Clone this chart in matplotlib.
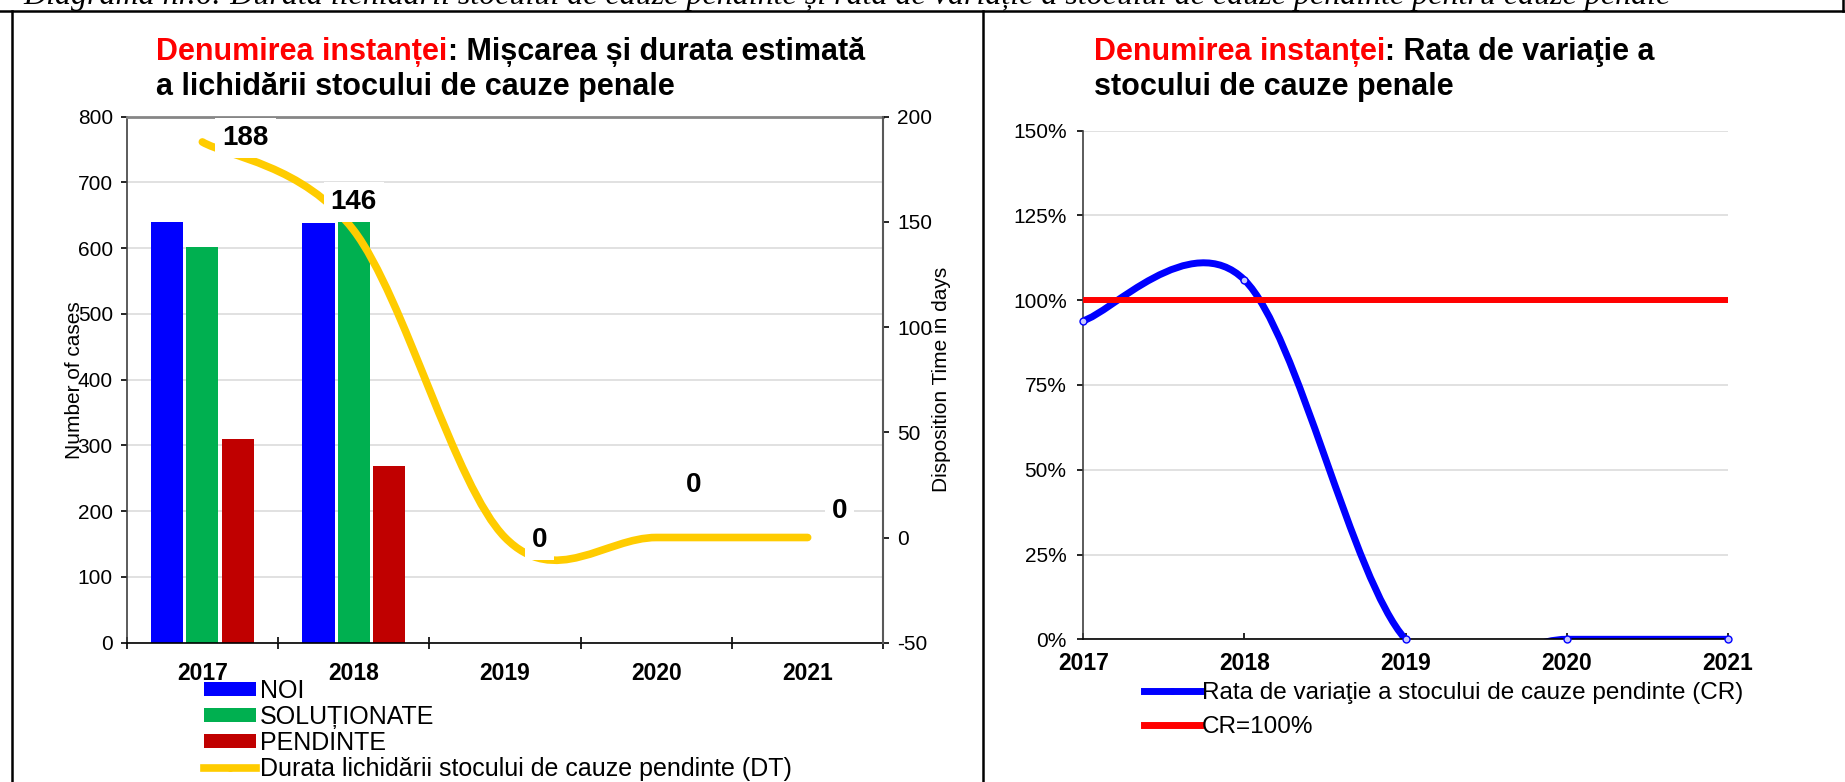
import matplotlib
matplotlib.use('Agg')
import matplotlib.pyplot as plt
import matplotlib.patches as mpatches
from matplotlib.lines import Line2D
from matplotlib.path import Path
import numpy as np

# data
years = ['2017', '2018', '2019', '2020', '2021']
noi = [640, 638]
solutionate = [602, 646]
pendinte = [310, 268]
dt_days = [188, 146, 0, 0, 0]
cr_pct = [94, 106, 0, 0, 0]
cr_target = [100, 100, 100, 100, 100]

caption = ('Diagrama nr.6: Durata lichidării stocului de cauze pendinte și rata de variație '
           'a stocului de cauze pendinte pentru cauze penale')

W, H = 1845, 782


def smooth_path(xs, ys):
    # excel-like smoothed line, cubic bezier through every point
    n = len(xs)
    verts = [(xs[0], ys[0])]
    codes = [Path.MOVETO]
    for i in range(n - 1):
        a = max(i - 1, 0)
        d = min(i + 2, n - 1)
        verts.append((xs[i] + (xs[i + 1] - xs[a]) / 6.0, ys[i] + (ys[i + 1] - ys[a]) / 6.0))
        verts.append((xs[i + 1] - (xs[d] - xs[i]) / 6.0, ys[i + 1] - (ys[d] - ys[i]) / 6.0))
        verts.append((xs[i + 1], ys[i + 1]))
        codes += [Path.CURVE4] * 3
    return Path(verts, codes)


plt.rcParams['font.family'] = ['Liberation Sans', 'DejaVu Sans']
plt.rcParams['axes.unicode_minus'] = False

fig = plt.figure(figsize=(W / 100, H / 100), dpi=100)

# ---------------- left chart ----------------
ax = fig.add_axes([126.7 / W, 1 - 642.7 / H, 756.6 / W, 526 / H])
x = np.arange(len(years))
bw = 0.213
off = 0.233
nb = len(noi)
b1 = ax.bar(x[:nb] - off, noi, bw, color='#0000FF', zorder=2)
b2 = ax.bar(x[:nb], solutionate, bw, color='#00B050', zorder=2)
b3 = ax.bar(x[:nb] + off, pendinte, bw, color='#C00000', zorder=2)

ax.set_xlim(-0.5, 4.5)
ax.set_ylim(0, 800)
ax.set_yticks(range(0, 801, 100))
ax.yaxis.grid(True, color='#D9D9D9', lw=1.1)
ax.set_axisbelow(True)
ax.set_xticks(np.arange(-0.5, 5, 1))
ax.set_xticklabels([])
ax.set_xticks(x, minor=True)
ax.set_xticklabels(years, minor=True, fontsize=16.5, fontweight='bold')
ax.tick_params(axis='x', which='major', direction='inout', length=9, width=1.2)
ax.tick_params(axis='x', which='minor', length=0, pad=14)
ax.tick_params(axis='y', direction='out', length=4, width=1.2, labelsize=15, pad=6)
ax.spines['top'].set_color('#868686')
ax.spines['top'].set_linewidth(2)
ax.spines['right'].set_visible(False)
ax.spines['left'].set_color('#404040')
ax.spines['left'].set_linewidth(1.2)
ax.spines['bottom'].set_linewidth(1.2)
ax.set_ylabel('Number of cases', fontsize=15)
ax.yaxis.set_label_coords((74 - 126.7) / 756.6, 0.5)
ax.yaxis.label.set_verticalalignment('center')

ax2 = ax.twinx()
ax2.set_ylim(-50, 200)
ax2.set_yticks(range(-50, 201, 50))
ax2.tick_params(axis='y', direction='out', length=4, width=1.2, labelsize=15, pad=6)
for s in ['top', 'left', 'bottom']:
    ax2.spines[s].set_visible(False)
ax2.spines['right'].set_color('#595959')
ax2.spines['right'].set_linewidth(1.5)
ax2.add_patch(mpatches.PathPatch(smooth_path(x, dt_days), fill=False, edgecolor='#FFCC00',
                                 lw=5.5, capstyle='round', joinstyle='round', zorder=3))
ax2.set_ylabel('Disposition Time in days', fontsize=15)
ax2.yaxis.set_label_coords((941.4 - 126.7) / 756.6, 0.5)
ax2.yaxis.label.set_verticalalignment('center')

label_offsets = [(31, 3), (0, 20.5), (25, -2), (27, 38), (23, 19)]
for i, v in enumerate(dt_days):
    ax2.annotate(str(v), (x[i], v), xytext=label_offsets[i], textcoords='offset points',
                 ha='center', va='center', fontsize=20, fontweight='bold', zorder=6,
                 bbox=dict(boxstyle='square,pad=0.25', fc='white', ec='none'))

dt_handle = Line2D([], [], color='#FFCC00', lw=5.5, marker='o', ms=4)
fig.legend([b1, b2, b3, dt_handle],
           ['NOI', 'SOLUȚIONATE', 'PENDINTE', 'Durata lichidării stocului de cauze pendinte (DT)'],
           loc='upper left', bbox_to_anchor=(203.6 / W, 1 - 679 / H), frameon=False,
           fontsize=18, handlelength=2.1, handleheight=0.5, handletextpad=0.15,
           labelspacing=0.08, borderpad=0, borderaxespad=0)

# ---------------- right chart ----------------
axr = fig.add_axes([1083.3 / W, 1 - 639.3 / H, (1727.7 - 1083.3) / W, (639.3 - 130.7) / H])
axr.add_patch(mpatches.PathPatch(smooth_path(x, cr_pct), fill=False, edgecolor='#0000FF',
                                 lw=5, capstyle='round', joinstyle='round', zorder=2))
axr.plot(x, cr_pct, 'o', mfc='#C8C8FF', mec='#0000FF', ms=5, mew=1, clip_on=False, zorder=4)
axr.plot(x, cr_target, color='#FF0000', lw=4.3, zorder=3)
axr.set_xlim(0, 4)
axr.set_ylim(0, 150)
axr.set_yticks(range(0, 151, 25))
axr.set_yticklabels(['{}%'.format(t) for t in range(0, 151, 25)])
axr.yaxis.grid(True, color='#D9D9D9', lw=1.1)
axr.set_axisbelow(True)
axr.set_xticks(x)
axr.set_xticklabels(years, fontsize=16.5, fontweight='bold')
axr.tick_params(axis='x', direction='in', length=4.5, width=1.2, pad=9)
axr.tick_params(axis='y', direction='out', length=4, width=1.2, labelsize=15, pad=8)
axr.spines['top'].set_visible(False)
axr.spines['right'].set_visible(False)
axr.spines['left'].set_color('#404040')
axr.spines['left'].set_linewidth(1.2)
axr.spines['bottom'].set_linewidth(1.2)

cr_handle = Line2D([], [], color='#0000FF', lw=5, marker='o', ms=4)
target_handle = Line2D([], [], color='#FF0000', lw=5)
fig.legend([cr_handle, target_handle],
           ['Rata de variaţie a stocului de cauze pendinte (CR)', 'CR=100%'],
           loc='upper left', bbox_to_anchor=(1143.7 / W, 1 - 682 / H), frameon=False,
           fontsize=17.5, handlelength=2.3, handletextpad=0.1,
           labelspacing=0.5, borderpad=0, borderaxespad=0)

# ---------------- titles ----------------
renderer = fig.canvas.get_renderer()
titles = [
    (156.5, ': Mișcarea și durata estimată', 'a lichidării stocului de cauze penale'),
    (1094, ': Rata de variaţie a', 'stocului de cauze penale'),
]
for tx, rest1, line2 in titles:
    t1 = fig.text(tx / W, 1 - 60 / H, 'Denumirea instanței', color='#FF0000',
                  fontsize=22, fontweight='bold', va='baseline')
    bb = t1.get_window_extent(renderer)
    fig.text(bb.x1 / W, 1 - 60 / H, rest1, color='black', fontsize=22,
             fontweight='bold', va='baseline')
    fig.text(tx / W, 1 - 95 / H, line2, color='black', fontsize=22,
             fontweight='bold', va='baseline')

# caption and table borders
fig.text(23.5 / W, 1 - 4 / H, caption, fontsize=23, style='italic',
         family='Liberation Serif', va='baseline')
ytop = 1 - 10.5 / H
fig.add_artist(Line2D([0, 1], [ytop, ytop], transform=fig.transFigure, color='black', lw=1.8))
for xb in [11.8, 983]:
    fig.add_artist(Line2D([xb / W, xb / W], [0, ytop], transform=fig.transFigure,
                          color='black', lw=1.8))
fig.add_artist(Line2D([1843 / W, 1843 / W], [ytop, 1], transform=fig.transFigure,
                      color='black', lw=1.8))

fig.savefig('out.png', dpi=100)
